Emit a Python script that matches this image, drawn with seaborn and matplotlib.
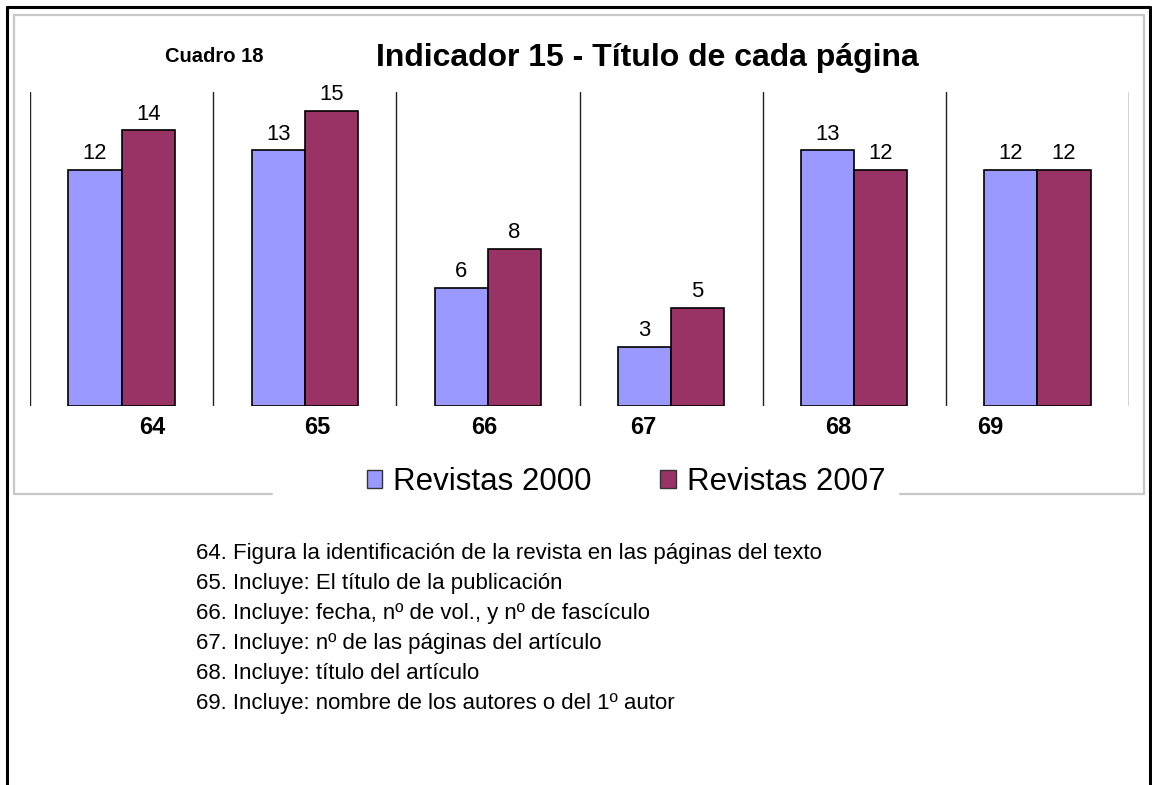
import matplotlib
matplotlib.use("Agg")
import matplotlib.pyplot as plt
import seaborn as sns
import pandas as pd
from matplotlib.lines import Line2D
from matplotlib.patches import Patch
from matplotlib import font_manager

# ---- data ----
categories = ["64", "65", "66", "67", "68", "69"]
revistas_2000 = [12, 13, 6, 3, 13, 12]
revistas_2007 = [14, 15, 8, 5, 12, 12]
series_names = ["Revistas 2000", "Revistas 2007"]
label_offsets = [0.17, 0.07, -0.02, -0.15, -0.09, -0.26]
title = "Indicador 15 - Título de cada página"
cuadro = "Cuadro 18"
notes = [
    "64. Figura la identificación de la revista en las páginas del texto",
    "65. Incluye: El título de la publicación",
    "66. Incluye: fecha, nº de vol., y nº de fascículo",
    "67. Incluye: nº de las páginas del artículo",
    "68. Incluye: título del artículo",
    "69. Incluye: nombre de los autores o del 1º autor",
]
colors = ["#9999FF", "#993366"]

df = pd.DataFrame({
    "cat": categories * 2,
    "val": revistas_2000 + revistas_2007,
    "serie": [series_names[0]] * len(categories) + [series_names[1]] * len(categories),
})

sns.set_style("white")
plt.rcParams["font.family"] = ["Liberation Sans", "DejaVu Sans"]
plt.rcParams["text.color"] = "black"

names = {f.name for f in font_manager.fontManager.ttflist}
if "Liberation Sans Narrow" in names:
    note_family = ["Liberation Sans Narrow", "DejaVu Sans"]
    note_size = 16.5
else:
    note_family = ["Liberation Sans", "DejaVu Sans"]
    note_size = 16

W, H = 1152, 785
fig = plt.figure(figsize=(W / 100, H / 100), dpi=100)
fig.patch.set_facecolor("white")

def fx(px):
    return px / W

def fy(py):
    return 1 - py / H

ax = fig.add_axes([fx(30), fy(406), fx(1129) - fx(30), fy(92) - fy(406)])
sns.barplot(data=df, x="cat", y="val", hue="serie", palette=colors,
            width=0.58, edgecolor="black", linewidth=1.2, ax=ax,
            legend=False, saturation=1)
ax.set_xlim(-0.5, len(categories) - 0.5)
ax.set_ylim(0, 15.95)
for s in ax.spines.values():
    s.set_visible(False)
ax.set_xticks([])
ax.set_yticks([])
ax.set_xlabel("")
ax.set_ylabel("")
ax.patch.set_alpha(0)

for c in ax.containers:
    ax.bar_label(c, padding=4, fontsize=15.8, color="black")

# separators
for i in range(len(categories) + 1):
    ax.axvline(i - 0.5, ymin=0, ymax=1, color="#222222", lw=1.0)

# category labels
for i, (cat, off) in enumerate(zip(categories, label_offsets)):
    ax.text(i + off, -1.07, cat, ha="center", va="center",
            fontsize=17, fontweight="bold", color="black")

# title and cuadro
fig.text(fx(647), fy(58), title, ha="center", va="center",
         fontsize=23, fontweight="bold", color="black")
fig.text(fx(214), fy(57), cuadro, ha="center", va="center",
         fontsize=14.5, fontweight="bold", color="black")

# outer black frame
for xs, ys in [((7, 7), (7, 790)), ((7, 1150), (7, 7)), ((1150, 1150), (7, 790))]:
    fig.add_artist(Line2D([fx(xs[0]), fx(xs[1])], [fy(ys[0]), fy(ys[1])],
                          color="black", lw=2.2, transform=fig.transFigure))

# gray chart frame
gray = "#C8C8C8"
for xs, ys in [((14, 14), (15, 494)), ((14, 1144), (15, 15)), ((1144, 1144), (15, 494)),
               ((14, 272), (494, 494)), ((900, 1144), (494, 494))]:
    fig.add_artist(Line2D([fx(xs[0]), fx(xs[1])], [fy(ys[0]), fy(ys[1])],
                          color=gray, lw=1.6, transform=fig.transFigure))

# legend
handles = [Patch(facecolor=colors[0], edgecolor="#333333", lw=1.0),
           Patch(facecolor=colors[1], edgecolor="#333333", lw=1.0)]
fig.legend(handles, series_names, loc="center", bbox_to_anchor=(fx(626), fy(482)),
           ncol=2, frameon=False, fontsize=22.5, handlelength=0.5, handleheight=0.5,
           handletextpad=0.35, columnspacing=2.2, borderpad=0, labelcolor="black")

# notes
for k, line in enumerate(notes):
    fig.text(fx(196), fy(553 + 30.2 * k), line, ha="left", va="center",
             fontsize=note_size, family=note_family, color="black")

fig.savefig("out.png", dpi=100, facecolor="white")
